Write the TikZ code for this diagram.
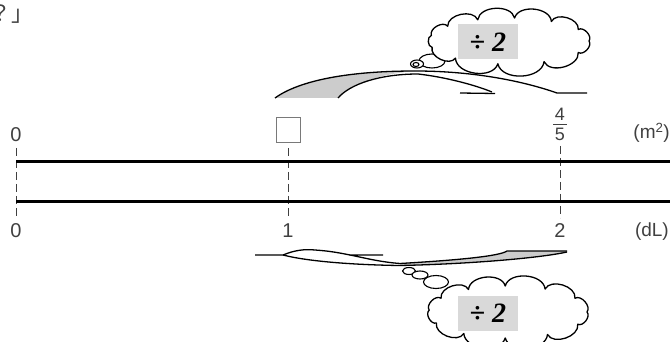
\documentclass[tikz,border=0pt]{standalone}
\usepackage{fontspec}
\setmainfont{Liberation Sans}
\newfontfamily\cjkfont{Noto Sans CJK JP}
\newfontfamily\serifbox{Liberation Serif}
\usetikzlibrary{shapes.geometric}
\definecolor{txt}{HTML}{404040}
\definecolor{band}{HTML}{CCCCCC}
\definecolor{boxg}{HTML}{D9D9D9}
\tikzset{
  mainline/.style={line width=3pt, black},
  tickline/.style={line width=0.9pt, txt, dash pattern=on 8pt off 4pt},
  lbl/.style={text=txt, font=\fontsize{20}{20}\selectfont, inner sep=0pt},
  unitlbl/.style={text=txt, font=\fontsize{19}{19}\selectfont, inner sep=0pt},
  arrowline/.style={line width=1.3pt, black, line join=round},
  cloudline/.style={draw=black, line width=1.3pt, fill=white, line join=round},
  bubble/.style={draw=black, line width=1.1pt, fill=white, ellipse, inner sep=0pt},
  opbox/.style={fill=boxg, minimum width=60pt, minimum height=35pt, inner sep=0pt, font=\serifbox\bfseries\fontsize{28}{28}\selectfont},
}
\begin{document}
\begin{tikzpicture}[x=1pt,y=-1pt]
\useasboundingbox (0,0) rectangle (670,342);
\clip (0,0) rectangle (670,342);
% top-left text
\node[anchor=west, inner sep=0pt, text=txt, font=\cjkfont\fontsize{22}{22}\selectfont] (q) at (-11,14) {？」};

% ticks
\coordinate (t0a) at (16,148); \coordinate (t0b) at (16,216);
\coordinate (t1a) at (288,148); \coordinate (t1b) at (288,218);
\coordinate (t2a) at (560,146); \coordinate (t2b) at (560,218);
\draw[tickline] (t0a) -- (t0b);
\draw[tickline] (t1a) -- (t1b);
\draw[tickline] (t2a) -- (t2b);

% main lines
\coordinate (l1a) at (16,162); \coordinate (l1b) at (670,162);
\coordinate (l2a) at (16,202); \coordinate (l2b) at (670,202);
\draw[mainline] (l1a) -- (l1b);
\draw[mainline] (l2a) -- (l2b);

% labels
\node[lbl] (z1) at (16,135) {0};
\node[lbl] (z2) at (16,231) {0};
\node[draw=txt!70, line width=0.9pt, minimum width=24pt, minimum height=25pt, inner sep=0pt] (blank) at (288,130) {};
\node[lbl, font=\fontsize{18}{18}\selectfont] (n4) at (560,114.5) {4};
\draw[line width=1pt, txt] (553,124.5) -- (567,124.5);
\node[lbl, font=\fontsize{18}{18}\selectfont] (n5) at (560,134) {5};
\node[unitlbl, anchor=east] (m2) at (670,133) {(m\textsuperscript{2})};
\node[lbl] (one) at (288,231) {1};
\node[lbl] (two) at (560,231) {2};
\node[unitlbl, anchor=east] (dl) at (669,232) {(dL)};

% top arrow
\fill[band] (275,98) .. controls (300,80) and (350,71) .. (415,71)
   .. controls (380,74) and (350,84) .. (338,98) -- cycle;
\draw[arrowline] (275,98) .. controls (300,80) and (350,71) .. (415,71)
   .. controls (470,71) and (520,80) .. (557,93) -- (587,93);
\draw[arrowline] (338,98) .. controls (350,84) and (380,74) .. (418,74)
   .. controls (445,77) and (475,85) .. (492,92);
\draw[arrowline] (460,93) -- (495,93.5);

% bottom arrow
\fill[band] (567,251) -- (507,251) .. controls (500,256) and (460,260) .. (400,263.5)
   -- (400,265) .. controls (470,264) and (540,258) .. (567,252) -- cycle;
\draw[arrowline] (567,251) -- (507,251) .. controls (500,256) and (460,260) .. (400,263.5)
   .. controls (380,262) and (365,258) .. (350,255) -- (383,255);
\draw[arrowline] (567,252) .. controls (540,258) and (470,264) .. (400,265.5)
   .. controls (360,265) and (310,262) .. (283,255);
\draw[arrowline] (255,255) -- (283,255) .. controls (295,250) and (305,249) .. (315,250)
   .. controls (330,251) and (340,253) .. (350,255);

% top thought cloud
\node[bubble, minimum width=26pt, minimum height=14pt] (tb2) at (432,61) {};
\node[bubble, minimum width=13pt, minimum height=8pt] (tb1) at (417,64) {};
\node[bubble, minimum width=6pt, minimum height=4pt] (tb0) at (416,64.5) {};
\draw[cloudline] ({509+80},41)
  \foreach \a in {30,58,86,113,140,166,196,228,262,296,330,360}
  { to[bend right=80] ({509+80*cos(\a)},{41-23*sin(\a)}) } -- cycle;
\node[opbox] (op1) at (488,42) {÷ \textit{2}};

% bottom thought cloud
\node[bubble, minimum width=13pt, minimum height=7pt] (bb0) at (409,271) {};
\node[bubble, minimum width=16pt, minimum height=8pt] (bb1) at (420,275) {};
\node[bubble, minimum width=25pt, minimum height=13pt] (bb2) at (436,282) {};
\draw[cloudline] ({508+79},312)
  \foreach \a in {32,62,92,120,148,176,205,236,268,300,332,360}
  { to[bend right=80] ({508+79*cos(\a)},{312-26*sin(\a)}) } -- cycle;
\node[opbox] (op2) at (488,313) {÷ \textit{2}};
\end{tikzpicture}
\end{document}
